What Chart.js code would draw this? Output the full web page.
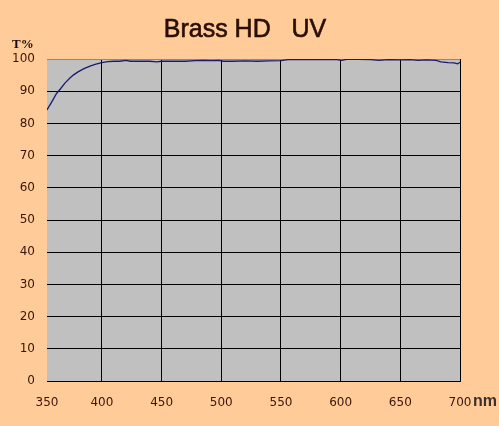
<!DOCTYPE html>
<html>
<head>
<meta charset="utf-8">
<script src="https://cdn.jsdelivr.net/npm/chart.js@4/dist/chart.umd.min.js"></script>
<style>
  html, body { margin:0; padding:0; background:#ffcc99; }
  #wrap { position:relative; width:499px; height:426px; }
  .lbl { position:absolute; white-space:nowrap; }
  #title { left:0; top:16px; width:490px; text-align:center; font:normal 25px/25px 'Liberation Sans', Arial, sans-serif; color:#2a0e04; -webkit-text-stroke:0.6px #2a0e04; }
  #tpct { left:12px; top:37px; font:bold 13px/13px 'Liberation Serif', 'Times New Roman', serif; color:#1a0a04; }
  #nm { left:473px; top:393px; font:bold 16px/16px 'Liberation Sans', Arial, sans-serif; color:#3b302a; }
</style>
</head>
<body>
<div id="wrap">
  <canvas id="chart"></canvas>
  <div class="lbl" id="title">Brass HD&nbsp;&nbsp; UV</div>
  <div class="lbl" id="tpct">T%</div>
  <div class="lbl" id="nm">nm</div>
</div>
<script>
// ─── Data ─────────────────────────────────────────────────────────────────────
const WAVELENGTH = [354,358,362,365,369,373,376,380,385,390,395,400,405,410,415,420,424,430,440,446,450,460,470,478,485,492,498,502,510,520,530,540,550,556,565,575,585,595,601,605,615,625,632,640,650,658,665,672,680,684,690,695,698,700];
const TRANSMIT   = [84.2,86.7,89.3,90.6,92.5,94.0,95.0,96.0,97.0,97.8,98.4,98.9,99.2,99.3,99.3,99.6,99.3,99.3,99.3,99.1,99.3,99.3,99.3,99.5,99.6,99.5,99.6,99.3,99.3,99.4,99.3,99.4,99.5,99.8,99.8,99.9,99.8,99.9,99.6,99.9,99.9,99.8,99.6,99.8,99.7,99.8,99.6,99.7,99.6,99.1,98.9,98.8,98.5,99.0];
const X_TICKS  = [354,400,450,500,550,600,650,700];
const X_LABELS = ['350','400','450','500','550','600','650','700'];

// ─── Styles ───────────────────────────────────────────────────────────────────
const TICK_STYLE = { color:'#3a1408', font:{family:"'DejaVu Sans', sans-serif", size:12} };

const plotBg = {
  id:'plotBg',
  beforeDraw(c) {
    const {ctx, chartArea:a} = c;
    ctx.save();
    ctx.fillStyle = '#c0c0c0';
    ctx.fillRect(a.left, a.top, a.right - a.left, a.bottom - a.top);
    ctx.restore();
  }
};

new Chart(document.getElementById('chart'), {
  type:'line',
  data:{
    datasets:[{
      data: WAVELENGTH.map((x,i)=>({x, y:TRANSMIT[i]})),
      borderColor:'#1a1a70', borderWidth:1.3, pointRadius:0, tension:0,
    }]
  },
  options:{
    responsive:true, maintainAspectRatio:false, animation:false,
    layout:{ padding:{ top:59, right:39, left:0, bottom:0 } },
    plugins:{ legend:{display:false}, tooltip:{enabled:false} },
    scales:{
      x:{
        type:'linear', min:354, max:700,
        afterBuildTicks: s => { s.ticks = X_TICKS.map(v=>({value:v})); },
        afterFit: s => { s.height = 45; },
        ticks:{ ...TICK_STYLE, padding:15, maxRotation:0, autoSkip:false, callback:(v,i)=>X_LABELS[i] },
        grid:{ drawTicks:false, lineWidth:1, color: c => c.index === 0 ? 'rgba(0,0,0,0)' : '#000' },
        border:{ color:'#000', width:1 }
      },
      y:{
        min:0, max:100,
        afterFit: s => { s.width = 47; },
        ticks:{ ...TICK_STYLE, stepSize:10, padding:12 },
        grid:{ drawTicks:false, lineWidth:1, color: c => c.tick.value === 100 ? '#8a8a8a' : '#000' },
        border:{ display:false }
      }
    }
  },
  plugins:[plotBg]
});
</script>
</body>
</html>
